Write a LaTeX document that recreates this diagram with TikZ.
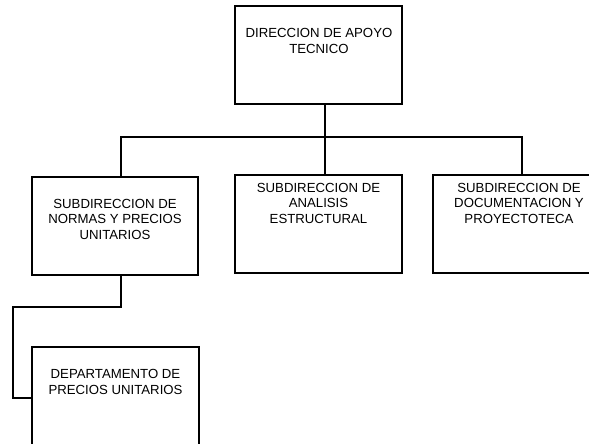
\documentclass[tikz,border=0pt]{standalone}
\usepackage{fontspec}
\setmainfont{Liberation Sans}
\begin{document}
\begin{tikzpicture}[x=1pt,y=-1pt,
  orgbox/.style={draw=black,line width=2.5pt,rectangle,inner sep=0pt,fill=white},
  orgtext/.style={align=center,inner sep=0pt,font=\fontsize{13.2}{15.5}\selectfont},
  link/.style={draw=black,line width=2.2pt,line join=miter}]
\useasboundingbox (0,0) rectangle (589,444);
\clip (0,0) rectangle (589,444);
% boxes
\node[orgbox,minimum width=167pt,minimum height=98pt] (dir) at (318.5,55) {};
\node[orgbox,minimum width=166pt,minimum height=98pt] (nor) at (115,226) {};
\node[orgbox,minimum width=167pt,minimum height=98pt] (ana) at (318.5,224) {};
\node[orgbox,minimum width=172pt,minimum height=98pt] (doc) at (519,224) {};
\node[orgbox,minimum width=167pt,minimum height=104pt] (dep) at (115.5,399) {};
% texts
\node[orgtext] (tdir) at (319,41) {DIRECCION DE APOYO\\TECNICO};
\node[orgtext] (tnor) at (115,219) {SUBDIRECCION DE\\NORMAS Y PRECIOS\\UNITARIOS};
\node[orgtext] (tana) at (318.5,203) {SUBDIRECCION DE\\ANALISIS\\ESTRUCTURAL};
\node[orgtext] (tdoc) at (519,203) {SUBDIRECCION DE\\DOCUMENTACION Y\\PROYECTOTECA};
\node[orgtext] (tdep) at (115.5,382) {DEPARTAMENTO DE\\PRECIOS UNITARIOS};
% connector coordinates
\coordinate (bus) at (325,137);
\coordinate (jl) at (121,137);
\coordinate (jr) at (522,137);
\coordinate (k1) at (121,307);
\coordinate (k2) at (13,307);
\coordinate (k3) at (13,398);
% connectors
\draw[link] (dir.south -| bus) -- (bus);
\draw[link] (jl |- nor.north) -- (jl) -- (jr) -- (jr |- doc.north);
\draw[link] (bus) -- (bus |- ana.north);
\draw[link] (jl |- nor.south) -- (k1) -- (k2) -- (k3) -- (k3 -| dep.west);
\end{tikzpicture}
\end{document}
